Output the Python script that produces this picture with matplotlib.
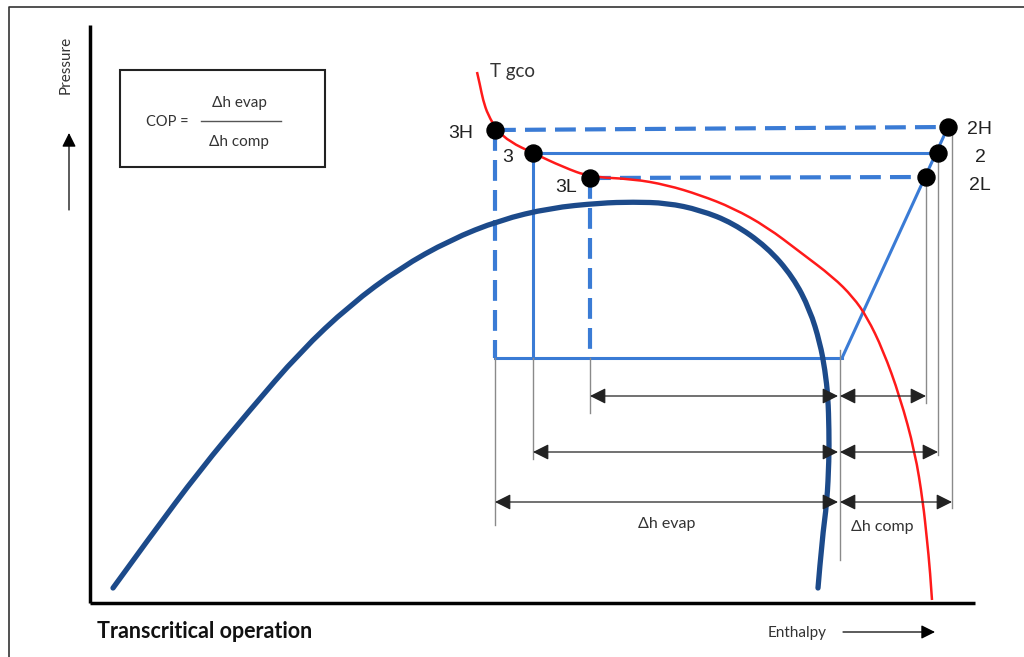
import matplotlib
matplotlib.use('Agg')
import matplotlib.pyplot as plt
from matplotlib.path import Path
from matplotlib.patches import PathPatch

# Schematic p-h diagram, coordinates (x = enthalpy, y = pressure, image units)

# saturation dome
dome_x = [113, 150, 200, 250, 300, 350, 400, 450, 500, 550, 600, 633, 667, 700, 733, 767, 793,
          810, 820, 825, 828, 829, 829, 827, 822, 818]
dome_y = [588, 537, 470, 410, 352, 305, 268, 240, 220, 208, 203, 202, 203, 210, 223, 247, 277,
          310, 343, 370, 397, 430, 460, 502, 540, 588]

# gas cooler outlet isotherm (T gco)
tgco_x = [477, 480, 483, 488, 497, 510, 533, 563, 590, 633, 667, 700, 733, 767, 800, 833, 853,
          867, 883, 900, 915, 923, 927, 930, 932]
tgco_y = [72, 85, 100, 115, 130, 142, 153, 167, 177, 179, 185, 195, 208, 227, 252, 277, 297,
          317, 350, 397, 452, 502, 540, 570, 600]

# state points
pt_names = ['3H', '3', '3L', '2H', '2', '2L']
pt_x = [495, 533, 590, 948, 938, 926]
pt_y = [130, 153, 178, 127, 153, 177]

# evaporator pressure and compressor inlet
evap_y = 358
comp_in_x = 842
ref_x = 840                      # line between evap / comp span
arrow_rows = [502, 452, 396]     # for 3H/2H, 3/2, 3L/2L
right_ends = [952, 938, 926]
left_ext = [525, 459, 413]       # lower end of left gray lines
right_ext = [508, 455, 403]      # lower end of right gray lines

blue = '#3a7bd5'
navy = '#1c4a8a'
red = '#ff1a1a'
gray = '#8a8a8a'
sans = ['Lato', 'DejaVu Sans']


def smooth_path(xs, ys):
    # quadratic spline through the midpoints, points used as control points
    pts = list(zip(xs, ys))
    verts = [pts[0]]
    codes = [Path.MOVETO]
    for i in range(1, len(pts) - 1):
        mid = ((pts[i][0] + pts[i + 1][0]) / 2, (pts[i][1] + pts[i + 1][1]) / 2)
        if i == len(pts) - 2:
            mid = pts[-1]
        verts += [pts[i], mid]
        codes += [Path.CURVE3, Path.CURVE3]
    return Path(verts, codes)


fig = plt.figure(figsize=(10.24, 6.57), dpi=100)
ax = fig.add_axes([0, 0, 1, 1])
ax.set_xlim(0, 1024)
ax.set_ylim(657, 0)
ax.axis('off')

# outer frame
ax.plot([9, 9, 1024], [657, 7, 7], color='#333333', lw=1.2)

# axes
ax.plot([90, 90], [25, 603], color='black', lw=2.5, solid_capstyle='butt')
ax.plot([90, 975], [603, 603], color='black', lw=2.5, solid_capstyle='butt')

# curves
ax.add_patch(PathPatch(smooth_path(dome_x, dome_y), fill=False, ec=navy, lw=3.8,
                       capstyle='round', joinstyle='round', zorder=3))
ax.add_patch(PathPatch(smooth_path(tgco_x, tgco_y), fill=False, ec=red, lw=1.8,
                       joinstyle='round', zorder=3))
ax.text(490, 72, 'T gco', fontsize=13.5, family=sans, color='#333333', va='center')

# cycle lines
for i in range(3):
    if pt_names[i] == '3':
        kw = dict(color=blue, lw=2.2, ls='-')
    else:
        kw = dict(color=blue, lw=3.0, ls='--', dashes=(5, 2.2))
    ax.plot([pt_x[i], pt_x[i + 3]], [pt_y[i], pt_y[i + 3]], **kw)
    ax.plot([pt_x[i], pt_x[i]], [pt_y[i], evap_y], **kw)
ax.plot([pt_x[0], comp_in_x], [evap_y, evap_y], color=blue, lw=2.2)
ax.plot([comp_in_x, pt_x[3]], [evap_y, pt_y[3]], color=blue, lw=2.2)

# points
ax.scatter(pt_x, pt_y, s=150, color='black', zorder=5)
lab_pos = {'3H': (461, 133), '3': (508, 158), '3L': (566, 187),
           '2H': (980, 129), '2': (980, 157), '2L': (980, 185)}
for n in pt_names:
    ax.text(lab_pos[n][0], lab_pos[n][1], n, fontsize=14, family='Liberation Sans',
            color='#222222', ha='center', va='center')

# gray dimension lines and double arrows
ax.plot([ref_x, ref_x], [350, 560], color=gray, lw=1)
for i in range(3):
    row = arrow_rows[i]
    ax.plot([pt_x[i], pt_x[i]], [evap_y, left_ext[i]], color=gray, lw=1)
    ax.plot([right_ends[i], right_ends[i]], [pt_y[i + 3], right_ext[i]], color=gray, lw=1)
    for a, b in [(pt_x[i], ref_x - 2), (ref_x, right_ends[i])]:
        ax.annotate('', xy=(a, row), xytext=(b, row),
                    arrowprops=dict(arrowstyle='<|-|>,head_length=0.6,head_width=0.3',
                                    color='#222222', lw=0.9, mutation_scale=16,
                                    shrinkA=0, shrinkB=0))

ax.text(667, 524, '\u0394h evap', fontsize=11.5, family=sans, color='#333333',
        ha='center', va='center')
ax.text(882, 527, '\u0394h comp', fontsize=11.5, family=sans, color='#333333',
        ha='center', va='center')

# COP box
ax.add_patch(plt.Rectangle((120, 70), 205, 97, fill=False, ec='#222222', lw=1.5))
ax.text(167, 122, 'COP =', fontsize=10.5, family=sans, color='#333333',
        ha='center', va='center')
ax.plot([201, 281], [121, 121], color='#555555', lw=1)
ax.text(239, 103, '\u0394h evap', fontsize=11, family=sans, color='#333333',
        ha='center', va='center')
ax.text(239, 142, '\u0394h comp', fontsize=11, family=sans, color='#333333',
        ha='center', va='center')

# axis captions
ax.text(66, 65, 'Pressure', fontsize=11, family=sans, color='#333333',
        rotation=90, ha='center', va='center')
ax.annotate('', xy=(69, 133), xytext=(69, 210),
            arrowprops=dict(arrowstyle='-|>,head_length=0.6,head_width=0.3', color='black',
                            lw=0.9, mutation_scale=14, shrinkA=0, shrinkB=0))
ax.text(797, 633, 'Enthalpy', fontsize=11, family=sans, color='#333333',
        ha='center', va='center')
ax.annotate('', xy=(935, 632), xytext=(843, 632),
            arrowprops=dict(arrowstyle='-|>,head_length=0.6,head_width=0.3', color='black',
                            lw=0.9, mutation_scale=14, shrinkA=0, shrinkB=0))
ax.text(97, 631, 'Transcritical operation', fontsize=15.5, fontweight='bold',
        family=sans, color='#111111', va='center')

fig.savefig('out.png', dpi=100)
